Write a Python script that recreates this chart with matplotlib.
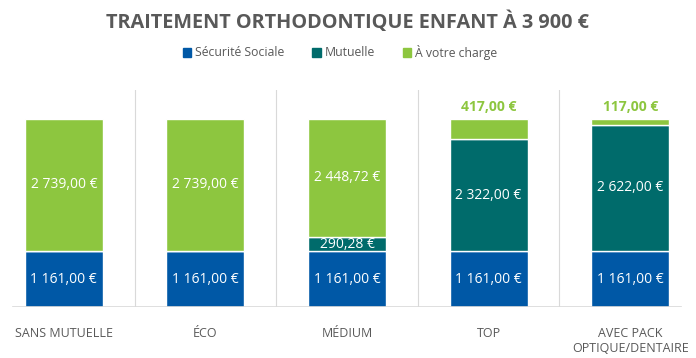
import matplotlib.pyplot as plt
import numpy as np

categories = ["SANS MUTUELLE", "ÉCO", "MÉDIUM", "TOP", "AVEC PACK\nOPTIQUE/DENTAIRE"]
secu = [1161.00, 1161.00, 1161.00, 1161.00, 1161.00]
mutuelle = [0, 0, 290.28, 2322.00, 2622.00]
charge = [2739.00, 2739.00, 2448.72, 417.00, 117.00]
# labels of the "À votre charge" part drawn above the bar instead of inside
charge_outside = [False, False, False, True, True]

c_secu = "#0058A6"
c_mut = "#006B6B"
c_charge = "#8DC63F"
grey = "#595959"


def euro(v):
    s = f"{v:,.2f}".replace(",", " ").replace(".", ",")
    return s + " €"


plt.rcParams["font.family"] = ["Open Sans", "DejaVu Sans"]

fig = plt.figure(figsize=(6.96, 3.58), dpi=100)
# category slots are ~142 px wide, first one starts a bit left of the figure
ax = fig.add_axes([-7 / 696, 51 / 358, 708 / 696, 217 / 358])

x = np.arange(len(categories))
w = 0.55
ax.bar(x, secu, w, color=c_secu, edgecolor="white", linewidth=1)
ax.bar(x, mutuelle, w, bottom=secu, color=c_mut, edgecolor="white", linewidth=1)
bottom2 = np.array(secu) + np.array(mutuelle)
ax.bar(x, charge, w, bottom=bottom2, color=c_charge, edgecolor="white", linewidth=1)

for i in x:
    ax.text(i, secu[i] / 2, euro(secu[i]), ha="center", va="center",
            color="white", fontsize=10)
    if mutuelle[i] > 0:
        ax.text(i, secu[i] + mutuelle[i] / 2, euro(mutuelle[i]), ha="center",
                va="center", color="white", fontsize=10)
    if charge_outside[i]:
        ax.text(i, bottom2[i] + charge[i] + 110, euro(charge[i]), ha="center",
                va="bottom", color=c_charge, fontsize=10, fontweight="bold")
    else:
        ax.text(i, bottom2[i] + charge[i] / 2, euro(charge[i]), ha="center",
                va="center", color="white", fontsize=10)

# light separators between categories
for s in x[:-1] + 0.5:
    ax.axvline(s, color="#D9D9D9", linewidth=0.8, zorder=0)
ax.axhline(0, xmin=0.028, xmax=0.972, color="#D9D9D9", linewidth=1.2)

ax.set_xlim(-0.5, len(categories) - 0.5)
ax.set_ylim(0, 4500)
ax.set_yticks([])
ax.set_xticks(x)
ax.set_xticklabels(categories, color=grey, fontsize=9, linespacing=1.22)
ax.tick_params(axis="x", length=0, pad=14.5)
for side in ["top", "left", "right", "bottom"]:
    ax.spines[side].set_visible(False)

fig.text(0.5, 1 - 22 / 358, "TRAITEMENT ORTHODONTIQUE ENFANT À 3 900 €",
         ha="center", va="center", fontsize=14.3, fontweight="bold", color=grey)

handles = [plt.Rectangle((0, 0), 1, 1, color=c) for c in (c_secu, c_mut, c_charge)]
fig.legend(handles, ["Sécurité Sociale", "Mutuelle", "À votre charge"],
           loc="center", bbox_to_anchor=(0.5 - 8 / 696, 1 - 52 / 358), ncol=3,
           frameon=False, fontsize=8.8, handlelength=0.7, handleheight=0.7,
           handletextpad=0.3, columnspacing=2.3, labelcolor=grey)

fig.savefig("out.png", dpi=100)
